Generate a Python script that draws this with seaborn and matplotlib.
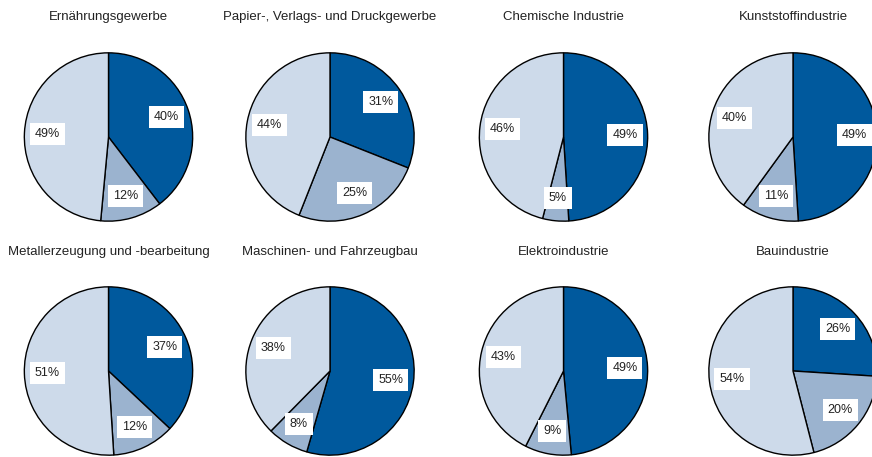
import matplotlib
matplotlib.use("Agg")
import matplotlib.pyplot as plt
import seaborn as sns

titles = ["Ernährungsgewerbe", "Papier-, Verlags- und Druckgewerbe",
          "Chemische Industrie", "Kunststoffindustrie",
          "Metallerzeugung und -bearbeitung", "Maschinen- und Fahrzeugbau",
          "Elektroindustrie", "Bauindustrie"]
dark = [40, 31, 49, 49, 37, 55, 49, 26]
mid = [12, 25, 5, 11, 12, 8, 9, 20]
light = [49, 44, 46, 40, 51, 38, 43, 54]

colors = ["#00599d", "#9bb3cf", "#cddaea"]

sns.set_theme(style="white")
plt.rcParams['font.family'] = ['Liberation Sans', 'DejaVu Sans']

W, H = 872, 457
fig = plt.figure(figsize=(W / 100, H / 100), dpi=100)

# pixel centres of the pies (x), rows (y)
cx = [108.5, 330, 563.5, 793]
cy = [137, 371]
title_y = [17, 252]
r = 85

for i, t in enumerate(titles):
    row, col = divmod(i, 4)
    x0, y0 = cx[col], cy[row]
    ax = fig.add_axes([(x0 - r) / W, 1 - (y0 + r) / H, 2 * r / W, 2 * r / H])
    vals = [dark[i], mid[i], light[i]]
    wedges, texts = ax.pie(vals, colors=colors, startangle=90, counterclock=False,
                           labels=[f"{v}%" for v in vals], labeldistance=0.73,
                           wedgeprops=dict(edgecolor="black", linewidth=1.0))
    for tx in texts:
        tx.set_ha("center")
        tx.set_va("center")
        tx.set_fontsize(9)
        tx.set_color("#222222")
        tx.set_bbox(dict(facecolor="white", edgecolor="none", boxstyle="square,pad=0.4"))
    ax.set_xlim(-1.01, 1.01)
    ax.set_ylim(-1.01, 1.01)
    ax.set_aspect("equal")
    fig.text(x0 / W, 1 - title_y[row] / H, t, ha="center", va="center",
             fontsize=9.5, color="#222222")

fig.savefig("out.png", dpi=100)
